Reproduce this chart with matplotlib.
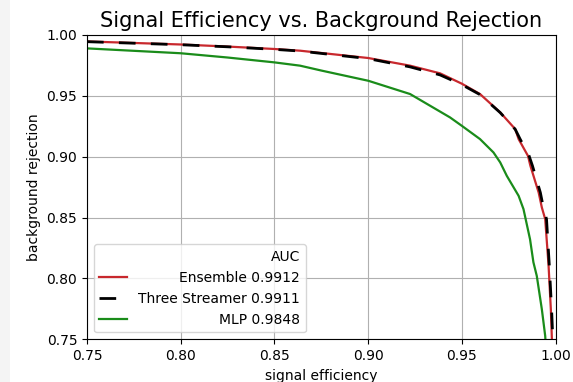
import matplotlib
matplotlib.use("Agg")
import matplotlib.pyplot as plt
from matplotlib.patches import Rectangle

# ROC-style curves: signal efficiency vs background rejection
ensemble_eff = [0.75, 0.80, 0.825, 0.85, 0.8637, 0.90, 0.9224, 0.9384, 0.95, 0.9597,
                0.9705, 0.9785, 0.9803, 0.9853, 0.9866, 0.9910, 0.9927, 0.9945,
                0.9963, 0.9975, 0.9980, 0.9988]
ensemble_rej = [0.9947, 0.9922, 0.9905, 0.9885, 0.9871, 0.9811, 0.9748, 0.9685, 0.9600, 0.9515,
                0.9364, 0.9227, 0.9145, 0.9007, 0.8925, 0.8706, 0.8583, 0.8487,
                0.8103, 0.7747, 0.7527, 0.72]

streamer_eff = [0.75, 0.80, 0.825, 0.85, 0.8637, 0.90, 0.9224, 0.9384, 0.95, 0.9597,
                0.9705, 0.9785, 0.9811, 0.9859, 0.9877, 0.9919, 0.9935, 0.9952,
                0.9967, 0.9979, 0.9985, 0.9991]
streamer_rej = [0.9945, 0.9920, 0.9903, 0.9882, 0.9868, 0.9806, 0.9738, 0.9672, 0.9592, 0.9510,
                0.9362, 0.9225, 0.9145, 0.9007, 0.8925, 0.8706, 0.8583, 0.8487,
                0.8103, 0.7747, 0.7527, 0.72]

mlp_eff = [0.75, 0.80, 0.825, 0.85, 0.8637, 0.875, 0.9001, 0.9224, 0.9437, 0.95, 0.9597,
           0.9669, 0.9705, 0.9740, 0.9803, 0.9829, 0.9864, 0.9882, 0.9900, 0.9927,
           0.9945, 0.9957]
mlp_rej = [0.9890, 0.9850, 0.9815, 0.9775, 0.9748, 0.9708, 0.9624, 0.9515, 0.9323, 0.9254,
           0.9145, 0.9035, 0.8953, 0.8843, 0.8679, 0.8570, 0.8322, 0.8133, 0.8021,
           0.7747, 0.7527, 0.72]

labels = ["Ensemble 0.9912", "Three Streamer 0.9911", "MLP 0.9848"]

fig, ax = plt.subplots(figsize=(5.73, 3.82), dpi=100)
fig.subplots_adjust(left=0.1518, right=0.9695, top=0.9084, bottom=0.1117)
fig.patches.append(Rectangle((0, 0), 10 / 573, 1, transform=fig.transFigure,
                             facecolor="#f4f4f4", edgecolor="none", zorder=-1))

ax.plot(ensemble_eff, ensemble_rej, color="#c8282d", lw=1.6, label=labels[0])
ax.plot(streamer_eff, streamer_rej, color="black", lw=2, dashes=(6, 5.5), label=labels[1])
ax.plot(mlp_eff, mlp_rej, color="#1a8c1a", lw=1.6, label=labels[2])

ax.set_xlim(0.75, 1.0)
ax.set_ylim(0.75, 1.0)
ax.set_xticks([0.75, 0.80, 0.85, 0.90, 0.95, 1.00])
ax.set_yticks([0.75, 0.80, 0.85, 0.90, 0.95, 1.00])
ax.grid(True)
ax.set_axisbelow(True)
ax.set_xlabel("signal efficiency")
ax.set_ylabel("background rejection")
ax.set_title("Signal Efficiency vs. Background Rejection", fontsize=15)

leg = ax.legend(loc="lower left", title="AUC", alignment="right")

# right-align the AUC labels: stretch each entry row to the widest one
fig.canvas.draw()
renderer = fig.canvas.get_renderer()
column = leg._legend_handle_box.get_children()[0]
rows = column.get_children()
row_width = max(r.get_bbox(renderer).width for r in rows)
for r in rows:
    r.mode = "expand"
    r.width = row_width

fig.savefig("out.png", dpi=100)
